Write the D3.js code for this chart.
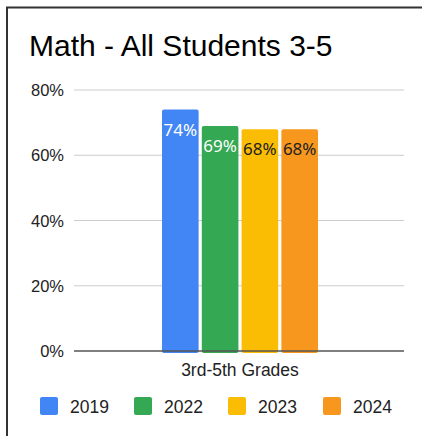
<!DOCTYPE html>
<html>
<head>
<meta charset="utf-8">
<script src="https://cdn.jsdelivr.net/npm/d3@7"></script>
<style>
  body { margin: 0; background: #fff; }
  svg { display: block; font-family: Arial, "Liberation Sans", sans-serif; }
</style>
</head>
<body>
<svg id="vis" width="422" height="436"></svg>
<script>
const categories = ['3rd-5th Grades'];
const years = ['2019', '2022', '2023', '2024'];
const values = [0.74, 0.69, 0.68, 0.68];
const yTicks = [0, 0.2, 0.4, 0.6, 0.8];
const colors = ['#4285f4', '#34a853', '#fbbc04', '#f7971e'];
const labelColors = ['#fff', '#fff', '#222', '#222'];

const svg = d3.select('#vis');

// frame (only left/top edges are visible in the crop)
svg.append('rect')
  .attr('x', 7).attr('y', 7.5)
  .attr('width', 440).attr('height', 460)
  .attr('fill', '#fff')
  .attr('stroke', '#333')
  .attr('stroke-width', 2);

svg.append('text')
  .attr('x', 29).attr('y', 56)
  .attr('font-size', 30)
  .attr('fill', '#000')
  .text('Math - All Students 3-5');

const y = d3.scaleLinear().domain([0, 0.8]).range([351, 90]);
const x0 = d3.scaleBand().domain(categories).range([74, 404]);
const x1 = d3.scaleBand().domain(years).range([162, 318]).paddingInner(0.08);

// gridlines + tick labels
const grid = svg.append('g');
grid.selectAll('line').data(yTicks.filter(d => d > 0)).enter().append('line')
  .attr('x1', 74).attr('x2', 404)
  .attr('y1', d => y(d)).attr('y2', d => y(d))
  .attr('stroke', '#ccc').attr('stroke-width', 1);
grid.selectAll('text').data(yTicks).enter().append('text')
  .attr('x', 64).attr('y', d => y(d) + 6)
  .attr('text-anchor', 'end')
  .attr('font-size', 16.5)
  .attr('fill', '#222')
  .text(d => d3.format('.0%')(d));

// bars
const bars = svg.append('g');
bars.selectAll('rect').data(values).enter().append('rect')
  .attr('x', (d, i) => x1(years[i]))
  .attr('y', d => y(d))
  .attr('width', x1.bandwidth())
  .attr('height', d => y(0) - y(d) + 2)
  .attr('rx', 2)
  .attr('fill', (d, i) => colors[i]);

bars.selectAll('text').data(values).enter().append('text')
  .attr('x', (d, i) => x1(years[i]) + x1.bandwidth() / 2)
  .attr('y', d => y(d) + 26)
  .attr('text-anchor', 'middle')
  .attr('font-family', '"Noto Sans", "Open Sans", sans-serif')
  .attr('font-size', 17)
  .attr('fill', (d, i) => labelColors[i])
  .text(d => d3.format('.0%')(d));

// baseline
svg.append('line')
  .attr('x1', 74).attr('x2', 404)
  .attr('y1', y(0)).attr('y2', y(0))
  .attr('stroke', '#555').attr('stroke-width', 1.5);

svg.append('text')
  .attr('x', x0(categories[0]) + x0.bandwidth() / 2 + 1)
  .attr('y', 376)
  .attr('text-anchor', 'middle')
  .attr('font-size', 17.5)
  .attr('fill', '#222')
  .text(categories[0]);

// legend
const legendX = [40, 134, 228, 323];
const legend = svg.append('g').selectAll('g').data(years).enter().append('g')
  .attr('transform', (d, i) => `translate(${legendX[i]},397)`);
legend.append('rect')
  .attr('width', 18).attr('height', 18).attr('rx', 2)
  .attr('fill', (d, i) => colors[i]);
legend.append('text')
  .attr('x', 30).attr('y', 16)
  .attr('font-size', 17.5)
  .attr('fill', '#222')
  .text(d => d);
</script>
</body>
</html>
